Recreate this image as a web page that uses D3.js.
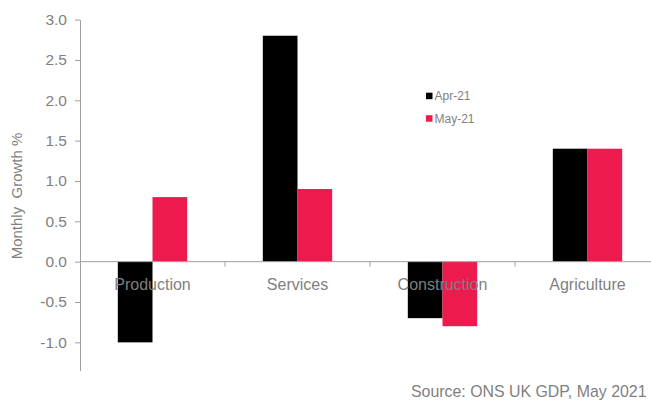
<!DOCTYPE html>
<html>
<head>
<meta charset="utf-8">
<script src="https://cdn.jsdelivr.net/npm/d3@7"></script>
<style>
  html, body { margin: 0; padding: 0; background: #fff; }
  svg { display: block; font-family: "Liberation Sans", Arial, sans-serif; }
</style>
</head>
<body>
<svg id="chart" width="651" height="401"></svg>
<script>
// Monthly GDP growth by sector, April and May 2021
const categories = ["Production", "Services", "Construction", "Agriculture"];
const seriesNames = ["Apr-21", "May-21"];
const apr21 = [-1.0, 2.8, -0.7, 1.4];
const may21 = [0.8, 0.9, -0.8, 1.4];
const yTicks = [-1.0, -0.5, 0.0, 0.5, 1.0, 1.5, 2.0, 2.5, 3.0];
const yTitle = "Monthly  Growth %";
const sourceNote = "Source: ONS UK GDP, May 2021";

const colors = { "Apr-21": "#000000", "May-21": "#ED1A4E" };
const textGrey = "#7F7F7F";
const axisGrey = "#A0A0A0";

const svg = d3.select("#chart");

const plot = { left: 80, right: 660, top: 19.6, bottom: 370.6 };

const y = d3.scaleLinear().domain([-1.35, 3]).range([plot.bottom, plot.top]);
const x0 = d3.scaleBand().domain(categories).range([plot.left, plot.right]).padding(0);
const x1 = d3.scaleBand().domain(seriesNames).range([0, x0.bandwidth()])
  .paddingInner(0).paddingOuter(1.09);

const rows = categories.map((c, i) => ({
  category: c,
  values: [
    { series: "Apr-21", value: apr21[i] },
    { series: "May-21", value: may21[i] }
  ]
}));

// Bars
const groups = svg.append("g").selectAll("g")
  .data(rows).join("g")
  .attr("transform", d => `translate(${x0(d.category)},0)`);

groups.selectAll("rect")
  .data(d => d.values).join("rect")
  .attr("x", d => x1(d.series))
  .attr("width", x1.bandwidth())
  .attr("y", d => y(Math.max(0, d.value)))
  .attr("height", d => Math.abs(y(d.value) - y(0)))
  .attr("fill", d => colors[d.series]);

// Y axis
const fmt = d3.formatLocale({ decimal: ".", thousands: ",", grouping: [3], currency: ["", ""], minus: "-" }).format(".1f");
const yAxis = svg.append("g")
  .attr("transform", `translate(${plot.left},0)`)
  .call(d3.axisLeft(y).tickValues(yTicks).tickFormat(fmt).tickSize(5).tickSizeOuter(0).tickPadding(8));
yAxis.select(".domain").attr("stroke", axisGrey);
yAxis.selectAll(".tick line").attr("stroke", axisGrey);
yAxis.selectAll(".tick text")
  .attr("fill", textGrey)
  .style("font-size", "15.5px")
  .attr("font-family", null);

// Zero baseline with category boundary ticks
const xAxis = svg.append("g").attr("transform", `translate(0,${y(0)})`);
xAxis.append("line")
  .attr("x1", plot.left).attr("x2", 651)
  .attr("stroke", axisGrey);
xAxis.selectAll("line.bound")
  .data(categories.slice(1)).join("line")
  .attr("class", "bound")
  .attr("x1", d => x0(d)).attr("x2", d => x0(d))
  .attr("y1", 0).attr("y2", 5)
  .attr("stroke", axisGrey);

// Category labels sit on top of the bars
svg.append("g").selectAll("text")
  .data(categories).join("text")
  .attr("x", d => x0(d) + x0.bandwidth() / 2)
  .attr("y", 289.5)
  .attr("text-anchor", "middle")
  .attr("fill", textGrey)
  .style("font-size", "16px")
  .text(d => d);

// Y axis title
svg.append("text")
  .attr("transform", `translate(22,196) rotate(-90)`)
  .attr("text-anchor", "middle")
  .attr("fill", textGrey)
  .style("font-size", "15px")
  .style("white-space", "pre")
  .attr("xml:space", "preserve")
  .text(yTitle);

// Legend
const legend = svg.append("g").selectAll("g")
  .data(seriesNames).join("g")
  .attr("transform", (d, i) => `translate(426,${92.7 + i * 22.5})`);
legend.append("rect")
  .attr("width", 6.5).attr("height", 6.5)
  .attr("fill", d => colors[d]);
legend.append("text")
  .attr("x", 8.5).attr("y", 7.3)
  .attr("fill", textGrey)
  .style("font-size", "12px")
  .text(d => d);

// Source note
svg.append("text")
  .attr("x", 646.5).attr("y", 396.5)
  .attr("text-anchor", "end")
  .attr("fill", textGrey)
  .style("font-size", "15.9px")
  .text(sourceNote);
</script>
</body>
</html>
